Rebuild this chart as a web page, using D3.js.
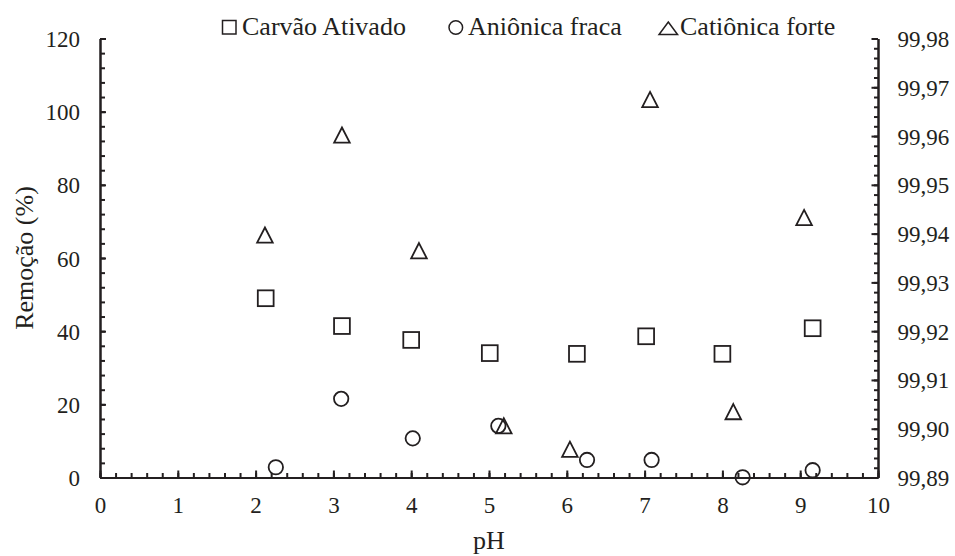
<!DOCTYPE html>
<html>
<head>
<meta charset="utf-8">
<script src="https://cdn.jsdelivr.net/npm/d3@7"></script>
</head>
<body style="margin:0;padding:0;background:#fff">
<svg id="chart" width="955" height="556"></svg>
<script>
// ---- Data ----
const seriesNames = ["Carvão Ativado", "Aniônica fraca", "Catiônica forte"];

// Carvão Ativado (left axis, %)
const carvaoPH = [2.13, 3.11, 4.0, 5.01, 6.13, 7.02, 8.0, 9.16];
const carvaoVal = [49.0, 41.4, 37.6, 34.0, 33.8, 38.6, 33.8, 40.8];

// Aniônica fraca (left axis, %)
const anionPH = [2.26, 3.10, 4.02, 5.12, 6.26, 7.09, 8.26, 9.16];
const anionVal = [2.8, 21.5, 10.7, 14.1, 4.8, 4.8, 0.05, 2.0];

// Catiônica forte (right axis, %)
const cationPH = [2.12, 3.11, 4.10, 5.19, 6.04, 7.07, 8.14, 9.05];
const cationVal = [99.9397, 99.9602, 99.9365, 99.9006, 99.8958, 99.9675, 99.9035, 99.9433];

const xTicks = [0, 1, 2, 3, 4, 5, 6, 7, 8, 9, 10];
const yLeftTicks = [0, 20, 40, 60, 80, 100, 120];
const yRightTicks = [99.89, 99.90, 99.91, 99.92, 99.93, 99.94, 99.95, 99.96, 99.97, 99.98];

(function () {
const FONT = "Liberation Serif";
const svg = d3.select("#chart");
const pLeft = 100, pRight = 878, pTop = 38.5, pBottom = 477.5;
const ink = "#231f20";

const x = d3.scaleLinear().domain([0, 10]).range([pLeft, pRight]);
const yL = d3.scaleLinear().domain([0, 120]).range([pBottom, pTop]);
const yR = d3.scaleLinear().domain([99.89, 99.98]).range([pBottom, pTop]);

const tickFont = 23, labelFont = 26;

const xMinor = d3.range(0, 51).map(i => +(i * 0.2).toFixed(2));
const yLMinor = d3.range(0, 31).map(i => i * 4);
const yRMinor = d3.range(0, 46).map(i => +(99.89 + i * 0.002).toFixed(3));

function styleAxis(g) {
  g.attr("font-family", FONT);
  g.selectAll("path").attr("stroke", ink).attr("stroke-width", 2);
  g.selectAll("line").attr("stroke", ink).attr("stroke-width", 2);
}
function styleText(sel) {
  sel.attr("font-family", FONT).style("font-family", FONT).attr("fill", ink);
}

// X minor
svg.append("g").attr("transform", `translate(0,${pBottom})`)
  .call(d3.axisBottom(x).tickValues(xMinor).tickSize(-4.5).tickSizeOuter(0).tickFormat(""))
  .call(styleAxis);
// X major
const gx = svg.append("g").attr("transform", `translate(0,${pBottom})`)
  .call(d3.axisBottom(x).tickValues(xTicks).tickSize(-7).tickSizeOuter(0).tickFormat(d3.format("d")))
  .call(styleAxis);
gx.selectAll("text").attr("font-size", tickFont).attr("y", 35.5).attr("dy", 0).call(styleText);

// Left minor
svg.append("g").attr("transform", `translate(${pLeft},0)`)
  .call(d3.axisLeft(yL).tickValues(yLMinor).tickSize(-5).tickSizeOuter(0).tickFormat(""))
  .call(styleAxis);
// Left major
const gyl = svg.append("g").attr("transform", `translate(${pLeft},0)`)
  .call(d3.axisLeft(yL).tickValues(yLeftTicks).tickSize(-6).tickSizeOuter(0).tickFormat(d3.format("d")))
  .call(styleAxis);
gyl.selectAll("text").attr("font-size", tickFont).attr("x", -20).attr("dy", 8)
  .attr("text-anchor", "end").call(styleText);

// Right minor
svg.append("g").attr("transform", `translate(${pRight},0)`)
  .call(d3.axisRight(yR).tickValues(yRMinor).tickSize(-4).tickSizeOuter(0).tickFormat(""))
  .call(styleAxis);
// Right major
const fmtR = v => d3.format(".2f")(v).replace(".", ",");
const gyr = svg.append("g").attr("transform", `translate(${pRight},0)`)
  .call(d3.axisRight(yR).tickValues(yRightTicks).tickSize(-6.5).tickSizeOuter(0).tickFormat(fmtR))
  .call(styleAxis);
gyr.selectAll("text").attr("font-size", tickFont).attr("x", 19.5).attr("dy", 8)
  .attr("text-anchor", "start").call(styleText);

// Axis titles
svg.append("text")
  .attr("transform", `translate(33,${(pTop + pBottom) / 2}) rotate(-90)`)
  .attr("text-anchor", "middle").attr("font-size", labelFont)
  .text("Remoção (%)").call(styleText);
svg.append("text")
  .attr("x", (pLeft + pRight) / 2).attr("y", 549)
  .attr("text-anchor", "middle").attr("font-size", labelFont)
  .text("pH").call(styleText);

// ---- Markers ----
const mk = svg.append("g").attr("fill", "none").attr("stroke", ink).attr("stroke-width", 1.8);

const sq = 15.8;
mk.selectAll("rect.carvao").data(d3.zip(carvaoPH, carvaoVal)).join("rect")
  .attr("class", "carvao")
  .attr("x", d => x(d[0]) - sq / 2).attr("y", d => yL(d[1]) - sq / 2)
  .attr("width", sq).attr("height", sq);

mk.selectAll("circle.anion").data(d3.zip(anionPH, anionVal)).join("circle")
  .attr("class", "anion")
  .attr("cx", d => x(d[0])).attr("cy", d => yL(d[1])).attr("r", 7.2);

const triW = 15.6, triH = 15.2;
function triPath(cx, cy, w, h) {
  return `M${cx},${cy - h / 2}L${cx + w / 2},${cy + h / 2}L${cx - w / 2},${cy + h / 2}Z`;
}
mk.selectAll("path.cation").data(d3.zip(cationPH, cationVal)).join("path")
  .attr("class", "cation")
  .attr("d", d => triPath(x(d[0]), yR(d[1]), triW, triH))
  .attr("stroke-linejoin", "miter");

// ---- Legend ----
const lg = svg.append("g");
const legendY = 35;
lg.append("rect").attr("x", 222.5).attr("y", 20.5).attr("width", 13.5).attr("height", 13.5)
  .attr("fill", "none").attr("stroke", ink).attr("stroke-width", 1.5);
lg.append("text").attr("x", 242).attr("y", legendY).attr("font-size", labelFont)
  .text(seriesNames[0]).call(styleText);
lg.append("circle").attr("cx", 455.8).attr("cy", 27.5).attr("r", 6.8)
  .attr("fill", "none").attr("stroke", ink).attr("stroke-width", 1.5);
lg.append("text").attr("x", 468).attr("y", legendY).attr("font-size", labelFont)
  .text(seriesNames[1]).call(styleText);
lg.append("path").attr("d", triPath(668.3, 28.3, 18.5, 12.5))
  .attr("fill", "none").attr("stroke", ink).attr("stroke-width", 1.5);
lg.append("text").attr("x", 680).attr("y", legendY).attr("font-size", labelFont)
  .text(seriesNames[2]).call(styleText);
})();
</script>
</body>
</html>
